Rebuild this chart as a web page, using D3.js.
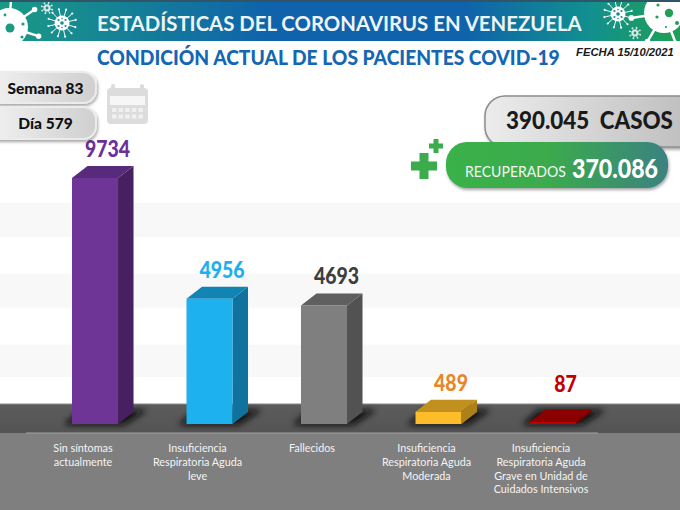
<!DOCTYPE html>
<html>
<head>
<meta charset="utf-8">
<script src="https://cdn.jsdelivr.net/npm/d3@7"></script>
<style>
  body { margin: 0; background: #fff; }
  svg { display: block; }
  text { font-family: Lato, "Open Sans", sans-serif; white-space: pre; }
</style>
</head>
<body>
<div id="chart"></div>
<script>
// values
var categories = ["Sin síntomas", "Insuficiencia leve", "Fallecidos", "Insuficiencia Moderada", "Insuficiencia Grave"];
var categoryLines = [
  ["Sin síntomas", "actualmente"],
  ["Insuficiencia", "Respiratoria Aguda", "leve"],
  ["Fallecidos"],
  ["Insuficiencia", "Respiratoria Aguda", "Moderada"],
  ["Insuficiencia", "Respiratoria Aguda", "Grave en Unidad de", "Cuidados Intensivos"]
];
var values = [9734, 4956, 4693, 489, 87];
var bandLow = [7400, 4600, 1860];
var bandHigh = [8750, 5950, 3140];
var frontColors = ["#6e3496", "#1db1ef", "#7f7f7f", "#fdbd2a", "#c00000"];
var topColors = ["#572a7c", "#1284b4", "#5f5f5f", "#c2901e", "#8b0000"];
var sideColors = ["#462060", "#0f739e", "#525252", "#ad8118", "#7a0000"];
var labelColors = ["#6b3098", "#1cb0f0", "#3d3d3d", "#e8872a", "#c00000"];

var width = 680, height = 510;
var depthX = 15.5, depthY = 12;

var svg = d3.select("#chart").append("svg")
  .attr("width", width)
  .attr("height", height);

var defs = svg.append("defs");

function gradient(id, stops, vertical) {
  var g = defs.append("linearGradient").attr("id", id)
    .attr("x1", 0).attr("y1", 0)
    .attr("x2", vertical ? 0 : 1).attr("y2", vertical ? 1 : 0);
  stops.forEach(function (s) {
    g.append("stop").attr("offset", s[0]).attr("stop-color", s[1]);
  });
}
gradient("headerFill", [[0, "#1a9a85"], [0.4, "#0f62ab"], [0.68, "#0f62ab"], [0.87, "#12908e"], [1, "#1fa055"]]);
gradient("pillFill", [[0, "#f4f4f4"], [1, "#cfcfcf"]]);
gradient("casosFill", [[0, "#ececec"], [1, "#b9b9b9"]]);
gradient("recFill", [[0, "#3bb149"], [0.45, "#3bab4c"], [1, "#3a8280"]]);
gradient("floorFill", [[0, "#5c5c5c"], [1, "#545454"]], true);

defs.append("filter").attr("id", "blur").attr("x", "-30%").attr("y", "-60%").attr("width", "160%").attr("height", "220%")
  .append("feGaussianBlur").attr("stdDeviation", 3);
var soft = defs.append("filter").attr("id", "softShadow").attr("x", "-10%").attr("y", "-20%").attr("width", "120%").attr("height", "150%");
soft.append("feDropShadow").attr("dx", 1).attr("dy", 2).attr("stdDeviation", 1.5).attr("flood-color", "#000").attr("flood-opacity", 0.35);

// squeeze a text horizontally so that it takes exactly w pixels
function fitText(sel, px, py, w) {
  var len = sel.node().getComputedTextLength();
  sel.attr("x", 0).attr("y", 0)
    .attr("transform", "translate(" + px + "," + py + ") scale(" + (w / len) + ",1)");
  return sel;
}

// scales
var x = d3.scaleBand().domain(categories).range([72, 576]).paddingInner(0.598).paddingOuter(0);
var y = d3.scaleLinear().domain([0, 9734]).range([424, 178]);

// light background bands
svg.selectAll(".band").data(bandLow).enter().append("rect")
  .attr("class", "band")
  .attr("x", 0)
  .attr("width", width)
  .attr("y", function (d, i) { return y(bandHigh[i]); })
  .attr("height", function (d, i) { return y(d) - y(bandHigh[i]); })
  .attr("fill", "#f8f8f8");

// floor and lower panel
svg.append("rect").attr("x", 0).attr("y", 404).attr("width", width).attr("height", 29).attr("fill", "url(#floorFill)");
svg.append("line").attr("x1", 0).attr("x2", width).attr("y1", 404).attr("y2", 404).attr("stroke", "#8a8a8a");
svg.append("rect").attr("x", 0).attr("y", 433).attr("width", width).attr("height", 77).attr("fill", "#7f7f7f");
svg.append("line").attr("x1", 26).attr("x2", 598).attr("y1", 433).attr("y2", 433).attr("stroke", "#a3a3a3");

// floor shadows
svg.selectAll(".shadow").data(values).enter().append("polygon")
  .attr("class", "shadow")
  .attr("filter", "url(#blur)")
  .attr("fill", "#0c0c0c")
  .attr("opacity", 0.95)
  .attr("points", function (d, i) {
    var x0 = x(categories[i]), w = x.bandwidth(), b = y(0);
    return [[x0 - 8, b + 1], [x0 + w + 6, b + 1], [x0 + w + depthX + 14, b - depthY - 2], [x0 + 8, b - depthY - 2]].join(" ");
  });

// bars: side, top, front
var bars = svg.selectAll(".bar").data(values).enter().append("g").attr("class", "bar");

bars.append("polygon")
  .attr("fill", function (d, i) { return sideColors[i]; })
  .attr("points", function (d, i) {
    var r = x(categories[i]) + x.bandwidth();
    return [[r, y(d)], [r + depthX, y(d) - depthY], [r + depthX, y(0) - depthY], [r, y(0)]].join(" ");
  });

bars.append("polygon")
  .attr("fill", function (d, i) { return topColors[i]; })
  .attr("points", function (d, i) {
    var l = x(categories[i]), r = l + x.bandwidth();
    return [[l, y(d)], [l + depthX, y(d) - depthY], [r + depthX, y(d) - depthY], [r, y(d)]].join(" ");
  });

bars.append("rect")
  .attr("fill", function (d, i) { return frontColors[i]; })
  .attr("x", function (d, i) { return x(categories[i]); })
  .attr("width", x.bandwidth())
  .attr("y", function (d) { return y(d); })
  .attr("height", function (d) { return y(0) - y(d); });

// value labels
svg.selectAll(".value").data(values).enter().append("text")
  .attr("class", "value")
  .attr("text-anchor", "middle")
  .attr("font-size", 23)
  .attr("font-weight", 900)
  .attr("fill", function (d, i) { return labelColors[i]; })
  .text(function (d) { return d; })
  .each(function (d, i) {
    fitText(d3.select(this),
      x(categories[i]) + x.bandwidth() / 2 + 12.5,
      Math.min(y(d) - depthY - 9, 392),
      String(d).length * 11.3);
  });

// category axis, labels broken over several lines
var axis = svg.append("g")
  .attr("transform", "translate(-12,437)")
  .call(d3.axisBottom(x).tickSize(0).tickPadding(0));
axis.select(".domain").remove();
axis.selectAll("text").each(function (d, i) {
  var t = d3.select(this).text(null).attr("y", 0).attr("dy", null)
    .attr("font-size", 10.8).attr("fill", "#f4f4f4")
    .style("font-family", "Lato, sans-serif");
  categoryLines[i].forEach(function (line, k) {
    t.append("tspan").attr("x", 0).attr("y", 15 + k * 13.8).text(line);
  });
});

// header
svg.append("rect").attr("x", 0).attr("y", 0).attr("width", width).attr("height", 2).attr("fill", "#2f5566");
svg.append("rect").attr("x", 0).attr("y", 2).attr("width", width).attr("height", 39).attr("fill", "url(#headerFill)");

var headerClip = defs.append("clipPath").attr("id", "headerClip");
headerClip.append("rect").attr("x", 0).attr("y", 2).attr("width", width).attr("height", 39);
var deco = svg.append("g").attr("clip-path", "url(#headerClip)");

// white virus with spikes, dots are [dx, dy, r] from the centre
function virus(cx, cy, r, reach, spikes, dotColor, dots, fill) {
  var g = deco.append("g").attr("transform", "translate(" + cx + "," + cy + ")");
  var bodyFill = fill || "#fff";
  d3.range(spikes).forEach(function (k) {
    var a = k / spikes * 2 * Math.PI + 0.3;
    g.append("line")
      .attr("x1", 0).attr("y1", 0)
      .attr("x2", Math.cos(a) * reach).attr("y2", Math.sin(a) * reach)
      .attr("stroke", bodyFill).attr("stroke-width", Math.max(0.9, r / 8));
    g.append("circle")
      .attr("cx", Math.cos(a) * reach).attr("cy", Math.sin(a) * reach)
      .attr("r", Math.max(0.9, r / 7)).attr("fill", bodyFill);
  });
  g.append("circle").attr("r", r).attr("fill", bodyFill);
  dots.forEach(function (p) {
    g.append("circle").attr("cx", p[0]).attr("cy", p[1]).attr("r", p[2]).attr("fill", dotColor);
  });
}
var smallDots = [[0, 0, 1.8], [-3.5, -3, 1.1], [3.5, -3, 1.1], [-3.5, 3, 1.1], [3.5, 3, 1.1], [0, -4.5, 0.8], [0, 4.5, 0.8]];
var tinyDots = [[0, 0, 1.4]];
virus(9, 27, 19, 31, 7, "#1a9a85", [[1, 1, 4.5], [14, -3, 1.6], [13, 10, 1.6], [-4, -12, 1.4]]);
virus(62, 23, 7.5, 14, 12, "#1a8f90", smallDots);
virus(47, 8, 3.5, 5.5, 8, "#1a8f90", tinyDots, "#d9e8e6");
virus(664, 13, 20, 33, 7, "#1f9f58", [[5, 0, 4.2], [-7, 4, 1.6], [-6, -8, 1.6], [13, 10, 2], [2, 14, 1.1]]);
virus(618, 14, 7.5, 14, 12, "#128c90", smallDots);
virus(635, 33, 3.5, 5.5, 8, "#169a70", tinyDots, "#d9e8e6");

fitText(svg.append("text").attr("font-size", 21.5).attr("font-weight", 700)
  .attr("fill", "#eef4f6").text("ESTADÍSTICAS DEL CORONAVIRUS EN VENEZUELA"), 97, 31, 485);

fitText(svg.append("text").attr("font-size", 21).attr("font-weight", 900)
  .attr("fill", "#1467b3").text("CONDICIÓN ACTUAL DE LOS PACIENTES COVID-19"), 97, 65, 463);

fitText(svg.append("text").attr("font-size", 10.5).attr("font-weight", 700).attr("font-style", "italic")
  .style("font-family", "'Liberation Sans', Arial, sans-serif")
  .attr("fill", "#1a1a1a").text("FECHA 15/10/2021"), 576, 56, 98);

// week and day pills
[["Semana 83", 72, 31], ["Día 579", 107, 32]].forEach(function (p) {
  svg.append("rect").attr("x", -20).attr("y", p[1]).attr("width", 116).attr("height", p[2]).attr("rx", 13)
    .attr("fill", "url(#pillFill)").attr("stroke", "#ececec").attr("stroke-width", 2)
    .attr("filter", "url(#softShadow)");
  svg.append("text").attr("x", 45.5).attr("y", p[1] + p[2] / 2 + 6).attr("text-anchor", "middle")
    .attr("font-size", 15.5).attr("font-weight", 900).attr("fill", "#111").text(p[0]);
});

// calendar icon
var cal = svg.append("g").attr("fill", "#dcdcdc");
cal.append("rect").attr("x", 107).attr("y", 88).attr("width", 41).attr("height", 36).attr("rx", 4);
cal.append("rect").attr("x", 111).attr("y", 84).attr("width", 4).attr("height", 8).attr("rx", 2);
cal.append("rect").attr("x", 140).attr("y", 84).attr("width", 4).attr("height", 8).attr("rx", 2);
cal.append("rect").attr("x", 110).attr("y", 96).attr("width", 35).attr("height", 9).attr("fill", "#f6f6f6");
d3.range(5).forEach(function (c) {
  d3.range(2).forEach(function (r) {
    cal.append("rect").attr("x", 112 + c * 6.6).attr("y", 108 + r * 6.5).attr("width", 4.5).attr("height", 4).attr("fill", "#f0f0f0");
  });
});

// totals
svg.append("rect").attr("x", 485).attr("y", 96).attr("width", 230).attr("height", 51).attr("rx", 20)
  .attr("fill", "url(#casosFill)").attr("stroke", "#8d8d8d").attr("stroke-width", 1.5)
  .attr("filter", "url(#softShadow)");
fitText(svg.append("text").attr("font-size", 25).attr("font-weight", 900)
  .attr("fill", "#1a1a1a").text("390.045  CASOS"), 506, 129, 167);

svg.append("rect").attr("x", 446).attr("y", 142).attr("width", 222).attr("height", 46).attr("rx", 21)
  .attr("fill", "url(#recFill)").attr("filter", "url(#softShadow)");
fitText(svg.append("text").attr("font-size", 15).attr("fill", "#f4f4f4")
  .text("RECUPERADOS"), 465, 177, 101);
fitText(svg.append("text").attr("font-size", 26).attr("font-weight", 900).attr("fill", "#fff")
  .text("370.086"), 572, 178, 86);

// plus signs
function plus(cx, cy, size, thick) {
  svg.append("rect").attr("x", cx - size / 2).attr("y", cy - thick / 2).attr("width", size).attr("height", thick).attr("fill", "#3bab4c");
  svg.append("rect").attr("x", cx - thick / 2).attr("y", cy - size / 2).attr("width", thick).attr("height", size).attr("fill", "#3bab4c");
}
plus(424, 166, 26, 9);
plus(436, 146, 14, 5);
</script>
</body>
</html>
